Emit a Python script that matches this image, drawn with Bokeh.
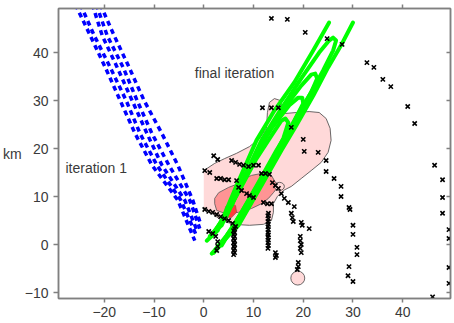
from bokeh.plotting import figure
from bokeh.models import Range1d, LinearAxis, Label, FixedTicker
from bokeh.embed import file_html
from bokeh.resources import INLINE

# ---------------- data (km) ----------------
x_ticks = [-20, -10, 0, 10, 20, 30, 40]
y_ticks = [-10, 0, 10, 20, 30, 40]

# iteration 1 (blue dotted paths)
blue_xs = [
    [-25.8, -22.8, -19.8, -16.8, -13.8, -10.4, -5.2, -1.8],
    [-24.8, -22.0, -18.8, -15.6, -12.8, -9.4, -4.6, -1.4],
    [-22.4, -20.4, -17.4, -14.4, -11.4, -8.4, -3.8, -1.2],
    [-21.6, -19.4, -16.2, -13.4, -10.4, -7.0, -2.8, -0.8],
    [-20.8, -18.0, -15.0, -12.0, -8.4, -5.2, -2.2, -0.6],
]
blue_ys = [
    [50.0, 43.5, 36.9, 30.0, 23.1, 16.5, 9.2, 0.8],
    [50.0, 43.5, 36.9, 30.0, 23.1, 16.5, 9.2, 1.7],
    [50.0, 43.5, 36.9, 30.0, 23.1, 16.5, 9.2, 2.5],
    [50.0, 43.5, 36.9, 30.0, 23.1, 16.5, 9.2, 3.3],
    [50.0, 43.5, 36.9, 30.0, 23.1, 16.5, 9.2, 4.2],
]

# final iteration (green paths)
green_xs = [
    [0.6, 2.8, 6.6, 10.6, 14.2, 18.2, 22.0, 25.2],
    [1.6, 4.0, 7.0, 11.6, 15.6, 18.6, 22.0, 25.0, 27.6, 30.0],
    [1.2, 3.6, 7.6, 11.6, 15.6, 19.6, 23.2, 25.2, 26.0, 26.6, 26.0, 24.0, 21.2, 18.0, 14.0, 10.0, 6.0, 2.8],
    [1.6, 4.6, 8.6, 12.6, 16.6, 19.6, 21.6, 22.4, 22.8, 21.6, 18.8, 15.6, 12.0, 8.2, 4.6, 2.2],
    [2.0, 5.6, 9.6, 13.6, 17.2, 19.0, 19.8, 20.0, 18.0, 14.6, 11.0, 7.6, 4.0, 2.0],
    [2.4, 6.6, 10.6, 13.6, 15.6, 16.4, 17.0, 16.0, 13.2, 9.6, 6.6, 3.6],
]
green_ys = [
    [0.8, 2.9, 12.3, 21.7, 27.9, 33.75, 40.4, 46.25],
    [-1.9, 0.8, 4.0, 12.3, 19.6, 24.8, 31.0, 36.9, 41.5, 46.25],
    [1.7, 4.0, 12.9, 21.7, 28.3, 34.6, 40.0, 42.5, 43.1, 42.5, 40.4, 36.25, 31.0, 24.8, 17.5, 10.2, 3.3, -0.8],
    [2.1, 6.0, 15.0, 22.7, 29.0, 33.1, 35.4, 35.6, 34.6, 31.7, 26.9, 20.6, 13.75, 7.1, 1.9, -1.25],
    [2.5, 8.1, 17.1, 24.2, 29.0, 30.6, 30.6, 29.4, 25.4, 19.6, 12.9, 6.7, 0.8, -1.7],
    [2.9, 10.2, 17.9, 22.7, 25.8, 26.25, 25.4, 22.1, 16.5, 10.2, 5.0, -0.2],
]

# confidence regions
outer_x = [0, 2.2, 4.2, 6.6, 9.2, 11.2, 12.6, 12.8, 13.2, 14.2, 15.4, 15.8, 16.4, 18.6, 21.2,
           23.2, 24.6, 25.4, 25.6, 25.0, 23.6, 21.6, 19.6, 17.6, 16.0, 14.8, 14.0, 14.0, 13.6,
           12.0, 9.2, 6.0, 3.6, 1.6, 0.4, 0]
outer_y = [15.4, 16.9, 17.9, 19.0, 20.4, 22.1, 24.2, 27.5, 29.6, 30.4, 30.0, 28.3, 27.3, 27.5, 27.7,
           27.5, 26.25, 24.2, 21.7, 19.2, 17.1, 15.4, 13.75, 12.1, 11.25, 10.0, 8.5, 6.7, 5.0,
           4.2, 4.0, 4.2, 5.0, 6.5, 7.5, 7.7]
mid_x = [2.2, 3.0, 5.0, 7.0, 8.2, 9.6, 11.6, 13.6, 14.2, 15.0, 14.0, 13.0, 11.6, 9.6, 7.0, 4.2, 2.6, 2.2]
mid_y = [9.6, 10.8, 11.9, 12.7, 13.75, 14.4, 14.8, 14.4, 13.3, 12.1, 10.8, 9.6, 8.5, 7.5, 6.7, 6.5, 7.1, 8.5]
core_x = [4.0, 4.4, 5.4, 6.4, 6.6, 5.6, 4.4]
core_y = [6.0, 7.9, 8.75, 8.1, 6.7, 5.6, 5.6]
blob_x = [18.9, 15.2]
blob_y = [-7.0, 12.1]
blob_w = [2.8, 2.0]
blob_h = [2.9, 1.7]

# stations / points (x markers)
mk_x = [13.6, 16.8, 20.4, 24.8, 27.8, 32.8, 34.2, 36.0, 37.6, 41.0, 42.4, 46.4, 48.0, 48.0, 48.0,
        49.3, 49.3, 49.3, 49.3, 46.0,
        17.6, 20.0, 20.2, 23.0, 24.6, 24.6, 26.2, 27.6, 27.6, 29.2, 29.4, 30.0, 30.0, 30.8, 30.8,
        29.2, 29.0, 30.0,
        11.8, 13.6, 15.0,
        2.0, 2.8, 5.6, 6.4, 7.2, 8.0, 9.0, 10.0, 11.0, 0.2, 1.2, 2.6, 3.4, 4.2, 5.0, 6.6,
        11.6, 12.4, 13.2, 7.0, 7.6, 8.6, 9.2, 10.0, 12.0, 12.8, 13.6,
        13.8, 14.4, 15.0, 15.6, 16.2, 17.0, 18.2,
        0.2, 1.0, 1.8, 2.6, 3.4, 4.2, 5.0, 5.8, 6.4,
        1.0, 1.8, 2.4, 2.8, 2.8, 2.6,
        6.2, 6.0, 6.2, 6.0, 6.2, 6.0, 6.2, 6.0, 6.2, 6.0, 6.2, 6.0, 6.2, 6.0,
        13.0, 12.9, 13.0, 12.9, 13.0, 12.9, 13.0, 12.9, 13.0, 12.9, 13.0, 12.9, 13.0, 12.9,
        14.4, 14.6, 14.4,
        17.6, 17.8, 18.0, 19.6, 19.8, 21.2, 19.4, 19.4, 19.6, 19.4, 19.6, 19.0, 19.0, 18.8]
mk_y = [47.1, 46.9, 44.2, 42.9, 41.7, 37.9, 36.9, 34.4, 32.9, 28.75, 25.2, 16.5, 13.5, 9.8, 6.5,
        3.1, 1.25, -4.8, -8.1, -10.9,
        24.4, 21.9, 19.4, 19.2, 17.5, 15.2, 13.75, 12.1, 10.0, 7.7, 7.3, 4.0, 2.1, -0.6, -2.1,
        -4.6, -6.5, -7.7,
        28.5, 28.5, 28.5,
        18.5, 17.7, 17.5, 17.1, 16.7, 16.5, 16.25, 16.5, 16.5, 15.4, 15.0, 13.75, 13.75, 13.5, 13.5, 13.3,
        14.8, 14.8, 14.6, 11.9, 11.25, 10.6, 10.2, 9.8, 8.75, 8.5, 8.5,
        12.9, 12.3, 11.7, 10.6, 9.6, 8.75, 7.9,
        7.3, 6.9, 6.7, 6.25, 5.8, 5.4, 5.0, 4.4, 3.75,
        2.7, 2.3, 1.7, 0.6, -0.4, -1.25,
        3.3, 2.9, 2.5, 2.1, 1.7, 1.25, 0.8, 0.4, 0.0, -0.4, -0.8, -1.25, -1.7, -2.1,
        6.5, 6.0, 5.4, 4.8, 4.2, 3.7, 3.1, 2.5, 2.0, 1.5, 0.9, 0.4, -0.2, -0.8,
        -1.7, -2.3, -2.7,
        6.5, 5.6, 4.8, 4.6, 4.0, 3.3, 1.7, 0.8, 0.0, -0.8, -1.7, -3.75, -4.6, -5.2]

texts = ["iteration 1", "final iteration"]
text_x = [-27.8, -1.8]
text_y = [16.0, 35.8]
y_unit = "km"

# ---------------- figure ----------------
FONT = "Liberation Sans"
AXC = "#808080"
TXC = "#3a3a3a"

p = figure(width=454, height=323, x_range=Range1d(-29.2, 49.6), y_range=Range1d(-11.25, 49.17),
           output_backend="svg", toolbar_location=None,
           min_border_left=56, min_border_right=4, min_border_top=8, min_border_bottom=25)
p.xgrid.visible = False
p.ygrid.visible = False
p.background_fill_color = "white"
p.border_fill_color = "white"
p.outline_line_color = AXC
p.outline_line_width = 1.5

for ax, ticks in ((p.xaxis[0], x_ticks), (p.yaxis[0], y_ticks)):
    ax.ticker = FixedTicker(ticks=ticks)
    ax.axis_line_color = AXC
    ax.axis_line_width = 1.5
    ax.major_tick_line_color = AXC
    ax.major_tick_line_width = 1.5
    ax.major_tick_in = 0
    ax.major_tick_out = 5
    ax.minor_tick_line_color = None
    ax.major_label_text_font = FONT
    ax.major_label_text_font_size = "14px"
    ax.major_label_text_color = TXC
p.xaxis.major_tick_out = 4
p.xaxis.major_label_standoff = 4
p.yaxis.major_label_standoff = 5
p.yaxis.axis_label = y_unit
p.yaxis.axis_label_orientation = "horizontal"
p.yaxis.axis_label_standoff = 0
p.yaxis.axis_label_text_font = FONT
p.yaxis.axis_label_text_font_size = "14px"
p.yaxis.axis_label_text_font_style = "normal"
p.yaxis.axis_label_text_color = TXC

rax = LinearAxis(ticker=FixedTicker(ticks=y_ticks), axis_line_color=AXC, axis_line_width=1.5,
                 major_tick_line_color=AXC, major_tick_line_width=1.5, major_tick_in=4,
                 major_tick_out=0, minor_tick_line_color=None, major_label_text_font_size="0px",
                 major_label_overrides={t: "" for t in y_ticks}, major_label_standoff=0)
p.add_layout(rax, "right")
tax = LinearAxis(ticker=FixedTicker(ticks=x_ticks), axis_line_color=AXC, axis_line_width=1.5,
                 major_tick_line_color=AXC, major_tick_line_width=1.5, major_tick_in=0,
                 major_tick_out=4, minor_tick_line_color=None, major_label_text_font_size="0px",
                 major_label_overrides={t: "" for t in x_ticks}, major_label_standoff=0)
p.add_layout(tax, "above")

# regions
p.patch(outer_x, outer_y, fill_color="#FFD9D9", line_color=None)
p.line(outer_x, outer_y, line_color="#444444", line_width=0.8)
p.patch(mid_x, mid_y, fill_color="#FF9494", line_color="#555555", line_width=0.8)
p.patch(core_x, core_y, fill_color="#FF3C3C", line_color="#884444", line_width=0.6)
p.ellipse(x=blob_x, y=blob_y, width=blob_w, height=blob_h, fill_color="#FFD9D9",
          line_color="#444444", line_width=0.8)

# paths
p.multi_line(blue_xs, blue_ys, line_color="#0000FF", line_width=3.5, line_dash="5 4")
p.multi_line(green_xs, green_ys, line_color="#00FF00", line_width=4, line_cap="round",
             line_join="round")

# markers
p.scatter(mk_x, mk_y, marker="x", size=6, line_color="black", line_width=1.6)

for t, tx, ty in zip(texts, text_x, text_y):
    p.add_layout(Label(x=tx, y=ty, text=t, text_font=FONT, text_font_size="14px",
                       text_color=TXC, text_baseline="middle", text_align="left"))

open("out.html", "w").write(file_html(p, INLINE))
